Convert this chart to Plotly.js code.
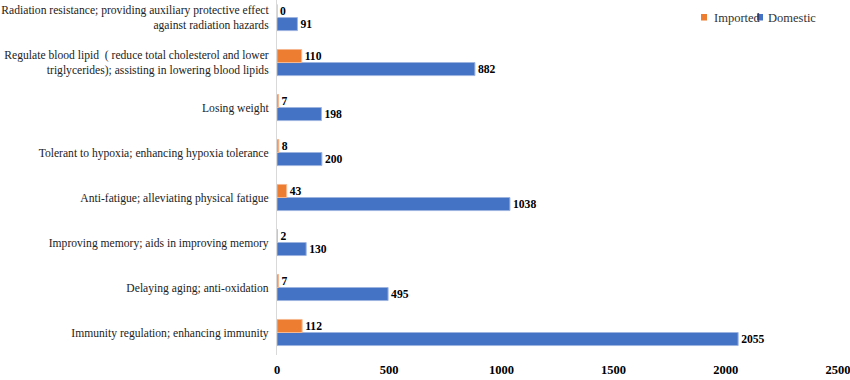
<!DOCTYPE html>
<html><head><meta charset="utf-8">
<script src="https://cdn.plot.ly/plotly-3.0.1.min.js"></script>
<style>body{margin:0;background:#fff}#c{width:850px;height:380px}</style>
</head><body><div id="c"></div>
<script>
const categories = [
  "Immunity regulation; enhancing immunity",
  "Delaying aging; anti-oxidation",
  "Improving memory; aids in improving memory",
  "Anti-fatigue; alleviating physical fatigue",
  "Tolerant to hypoxia; enhancing hypoxia tolerance",
  "Losing weight",
  "Regulate blood lipid  ( reduce total cholesterol and lower<br>triglycerides); assisting in lowering blood lipids",
  "Radiation resistance; providing auxiliary protective effect<br>against radiation hazards"
];
const imported = [112, 7, 2, 43, 8, 7, 110, 0];
const domestic = [2055, 495, 130, 1038, 200, 198, 882, 91];
const xTicks = [0, 500, 1000, 1500, 2000, 2500];
const seriesNames = ["Imported", "Domestic"];
const seriesColors = ["#ED7D31", "#4472C4"];

const FAM = "Liberation Serif";
const lblFont = {family: FAM, size: 12.5, color: "#000"};

const traces = [
  {type: "bar", orientation: "h", name: seriesNames[1], y: categories, x: domestic,
   marker: {color: seriesColors[1], line: {color: "#9DB3E0", width: 1}},
   texttemplate: "<b>%{x}</b>", textposition: "outside",
   textfont: lblFont, cliponaxis: false},
  {type: "bar", orientation: "h", name: seriesNames[0], y: categories, x: imported,
   marker: {color: seriesColors[0], line: {color: "#F6B890", width: 1}},
   texttemplate: "<b>%{x}</b>", textposition: "outside",
   textfont: lblFont, cliponaxis: false}
];

// custom compact legend (paper coords computed from plot size)
const L = 277, W = 561, H = 355;
const px = v => (v - L) / W;
const py = v => 1 - v / H;
const legendItems = [
  {sq: 701, tx: 712}, {sq: 757, tx: 766}
];
const shapes = legendItems.map((it, i) => ({
  type: "rect", xref: "paper", yref: "paper",
  x0: px(it.sq), x1: px(it.sq + 6), y0: py(20.5), y1: py(14),
  fillcolor: seriesColors[i], line: {width: 0}
}));
const annotations = legendItems.map((it, i) => ({
  xref: "paper", yref: "paper", x: px(it.tx), y: py(17.5), xanchor: "left", yanchor: "middle",
  text: seriesNames[i], showarrow: false, font: {family: FAM, size: 12.5, color: "#333"}
}));

const layout = {
  width: 850, height: 380,
  margin: {l: L, r: 850 - L - W, t: 0, b: 380 - H},
  paper_bgcolor: "#fff", plot_bgcolor: "#fff",
  barmode: "group", bargap: 0.42, bargroupgap: 0,
  font: {family: FAM, size: 12, color: "#000"},
  showlegend: false,
  shapes: shapes,
  annotations: annotations,
  xaxis: {range: [0, 2500], tickvals: xTicks, ticktext: xTicks.map(v => "<b>" + v + "</b>"),
    showgrid: false, zeroline: false, showline: false, automargin: false,
    ticks: "outside", ticklen: 3, tickcolor: "rgba(0,0,0,0)", ticklabeloverflow: "allow",
    tickfont: {family: FAM, size: 12.5, color: "#000"}, fixedrange: true},
  yaxis: {type: "category", range: [-0.5, 7.39], showgrid: false, zeroline: false,
    showline: true, linecolor: "#d9d9d9", linewidth: 1, ticks: "", ticklabelstandoff: 5,
    tickfont: {family: FAM, size: 11.6, color: "#222"}, automargin: false}
};

Plotly.newPlot("c", traces, layout, {displayModeBar: false, staticPlot: true});
</script>
</body></html>
